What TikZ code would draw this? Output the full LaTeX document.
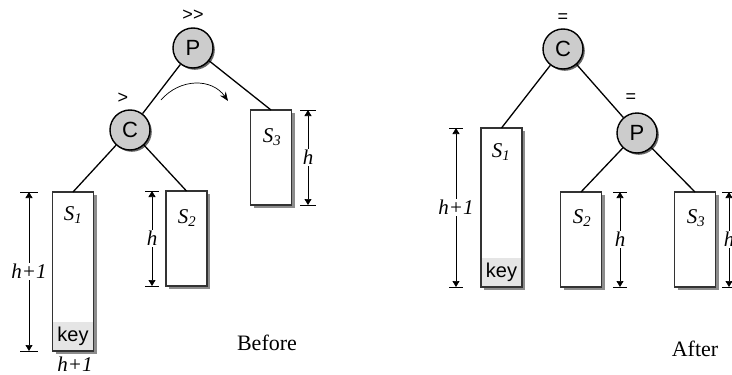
\documentclass[tikz,border=0pt]{standalone}
\usepackage{fontspec}
\setmainfont{Liberation Serif}
\newfontfamily\arialf{Liberation Sans}
\usetikzlibrary{shadows,arrows.meta}
\begin{document}
\begin{tikzpicture}[x=1pt,y=-1pt,
  circ/.style={circle, draw=black, line width=1.4pt, fill=black!20, minimum size=40pt, inner sep=0pt,
    font=\arialf\fontsize{22}{24}\selectfont,
    general shadow={fill=black!60, shadow xshift=1.8pt, shadow yshift=-1.8pt}},
  subtree/.style={rectangle, draw=black!80, line width=1.2pt, fill=white, minimum width=41pt, inner sep=0pt, outer sep=0pt,
    general shadow={fill=black!45, shadow xshift=3pt, shadow yshift=-3pt}},
  keyfill/.style={rectangle, fill=black!10, minimum width=39.6pt, minimum height=28pt, inner sep=0pt, anchor=south,
    font=\arialf\fontsize{20}{22}\selectfont},
  lab/.style={font=\itshape\fontsize{21}{23}\selectfont, inner sep=1pt},
  bal/.style={font=\arialf\fontsize{18}{20}\selectfont, inner sep=0pt},
  captext/.style={font=\fontsize{22}{24}\selectfont, inner sep=0pt},
  conn/.style={line width=1.3pt, black},
  dimline/.style={line width=0.7pt, black, {Triangle[length=6pt,width=7pt]}-{Triangle[length=6pt,width=7pt]}},
  dimlab/.style={font=\itshape\fontsize{21}{23}\selectfont, fill=white, inner sep=1.5pt},
  tickline/.style={line width=0.7pt, black}
]
\useasboundingbox (0,0) rectangle (732,375);

% ---------------- Before ----------------
\node[circ] (P1) at (193,48) {P};
\node[circ] (C1) at (130,130) {C};
\node[bal] (b1) at (193,15) {>>};
\node[bal] (b2) at (123,98) {>};

\node[subtree, minimum height=159pt] (S1a) at (73,271.5) {};
\node[keyfill] (k1) at ([yshift=0.6pt]S1a.south) {key};
\node[subtree, minimum height=95pt] (S2a) at (186.5,238.5) {};
\node[subtree, minimum height=95pt] (S3a) at (271,157.5) {};

\node[lab] (l1) at (73,215) {S\textsubscript{1}};
\node[lab] (l2) at (187,218) {S\textsubscript{2}};
\node[lab] (l3) at (272,137) {S\textsubscript{3}};

\draw[conn] (P1) -- (C1);
\draw[conn] (P1) -- (S3a.north);
\draw[conn] (C1) -- (S1a.north);
\draw[conn] (C1) -- (S2a.north);

\coordinate (ra) at (161,100);
\coordinate (rb) at (228,101);
\draw[line width=0.7pt, -{Stealth[length=9pt,width=7pt]}] (ra) .. controls (180,78) and (212,78) .. (rb);

% dimensions before
\coordinate (d1t) at (29,192); \coordinate (d1b) at (29,351);
\draw[dimline] (d1t) -- node[dimlab] (h1) {h+1} (d1b);
\draw[tickline] (20,192) -- (38,192); \draw[tickline] (20,351) -- (38,351);

\coordinate (d2t) at (152,191); \coordinate (d2b) at (152,286);
\draw[dimline] (d2t) -- node[dimlab] (h2) {h} (d2b);
\draw[tickline] (145,191) -- (159,191); \draw[tickline] (145,286) -- (159,286);

\coordinate (d3t) at (308,110); \coordinate (d3b) at (308,205);
\draw[dimline] (d3t) -- node[dimlab] (h3) {h} (d3b);
\draw[tickline] (300,110) -- (316,110); \draw[tickline] (300,205) -- (316,205);

\node[lab] (hb) at (75,364) {h+1};
\node[captext] (before) at (267,343) {Before};

% ---------------- After ----------------
\node[circ] (C2) at (563,49) {C};
\node[circ] (P2) at (637,133) {P};
\node[bal] (e1) at (563,18) {=};
\node[bal] (e2) at (631,98) {=};

\node[subtree, minimum height=159pt] (S1b) at (501.5,207.5) {};
\node[keyfill] (k2) at ([yshift=0.6pt]S1b.south) {key};
\node[subtree, minimum height=95pt] (S2b) at (581,239.5) {};
\node[subtree, minimum height=95pt] (S3b) at (695,239.5) {};

\node[lab] (m1) at (501,152) {S\textsubscript{1}};
\node[lab] (m2) at (582,218) {S\textsubscript{2}};
\node[lab] (m3) at (696,218) {S\textsubscript{3}};

\draw[conn] (C2) -- (P2);
\draw[conn] (C2) -- (S1b.north);
\draw[conn] (P2) -- (S2b.north);
\draw[conn] (P2) -- (S3b.north);

\coordinate (e1t) at (456,128); \coordinate (e1b) at (456,287);
\draw[dimline] (e1t) -- node[dimlab] (g1) {h+1} (e1b);
\draw[tickline] (449,128) -- (463,128); \draw[tickline] (449,287) -- (463,287);

\coordinate (e2t) at (620,192); \coordinate (e2b) at (620,287);
\draw[dimline] (e2t) -- node[dimlab] (g2) {h} (e2b);
\draw[tickline] (613,192) -- (627,192); \draw[tickline] (613,287) -- (627,287);

\coordinate (e3t) at (729,192); \coordinate (e3b) at (729,287);
\draw[dimline] (e3t) -- node[dimlab] (g3) {h} (e3b);
\draw[tickline] (722,192) -- (736,192); \draw[tickline] (722,287) -- (736,287);

\node[captext] (after) at (695,349) {After};
\end{tikzpicture}
\end{document}
